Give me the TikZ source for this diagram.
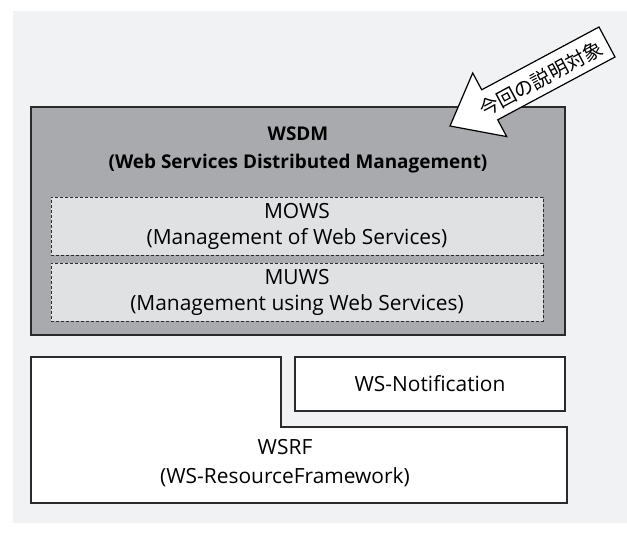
\documentclass[tikz,border=0pt]{standalone}
\usepackage{fontspec}
\setmainfont{Open Sans}
\newfontfamily\jpfont{Noto Sans CJK JP}
\definecolor{panelbg}{HTML}{F1F2F4}
\definecolor{wsdmfill}{HTML}{A9AAAE}
\definecolor{subfill}{HTML}{E0E1E3}
\definecolor{edge}{HTML}{2B2B2B}
\tikzset{
  outerbox/.style={draw=edge, line width=1.6bp, inner sep=0pt},
  subbox/.style={draw=edge, line width=0.8bp, dash pattern=on 3bp off 2bp,
    fill=subfill, inner sep=0pt, minimum width=492bp, minimum height=58bp,
    align=center, font=\fontsize{21}{26}\selectfont},
  plaintext/.style={inner sep=0pt, align=center, font=\fontsize{21}{29}\selectfont},
  pointer/.style={draw=black, line width=1.2bp, fill=white, line join=miter}
}
\begin{document}
\begin{tikzpicture}[x=1bp,y=-1bp]
\useasboundingbox (0,0) rectangle (627,540);
% background panel
\fill[panelbg] (13,11) rectangle (627,523);

% WSDM layer with its two sub-specifications
\node[outerbox, fill=wsdmfill, minimum width=534bp, minimum height=228bp] (wsdm) at (298,221) {};
\node[plaintext, font=\bfseries\fontsize{19}{28}\selectfont] (wsdmtitle) at (298,150)
  {WSDM\\(Web Services Distributed Management)};
\node[subbox] (mows) at (297,226) {MOWS\\(Management of Web Services)};
\node[subbox] (muws) at (297,292) {MUWS\\(Management using Web Services)};

% WS-Notification
\node[outerbox, fill=white, minimum width=270bp, minimum height=54bp,
  font=\fontsize{21}{26}\selectfont] (notif) at (430,384) {WS-Notification};

% WSRF (L-shaped block)
\draw[edge, line width=1.6bp, fill=white]
  (31,357) -- (281,357) -- (281,427) -- (567,427) -- (567,503) -- (31,503) -- cycle;
\node[plaintext] (wsrf) at (285,463.5)
  {WSRF\\(WS-ResourceFramework)};

% pointer arrow
\coordinate (tip) at (450,126);
\draw[pointer] (tip) -- (472.7,73.0) -- (481.7,89.8) -- (599,27) -- (615,57)
  -- (497.7,119.8) -- (506.7,136.6) -- cycle;
\node[inner sep=0pt, rotate=28.2, font=\jpfont\fontsize{19.5}{19.5}\selectfont] (focus) at (541,79) {今回の説明対象};
\end{tikzpicture}
\end{document}
